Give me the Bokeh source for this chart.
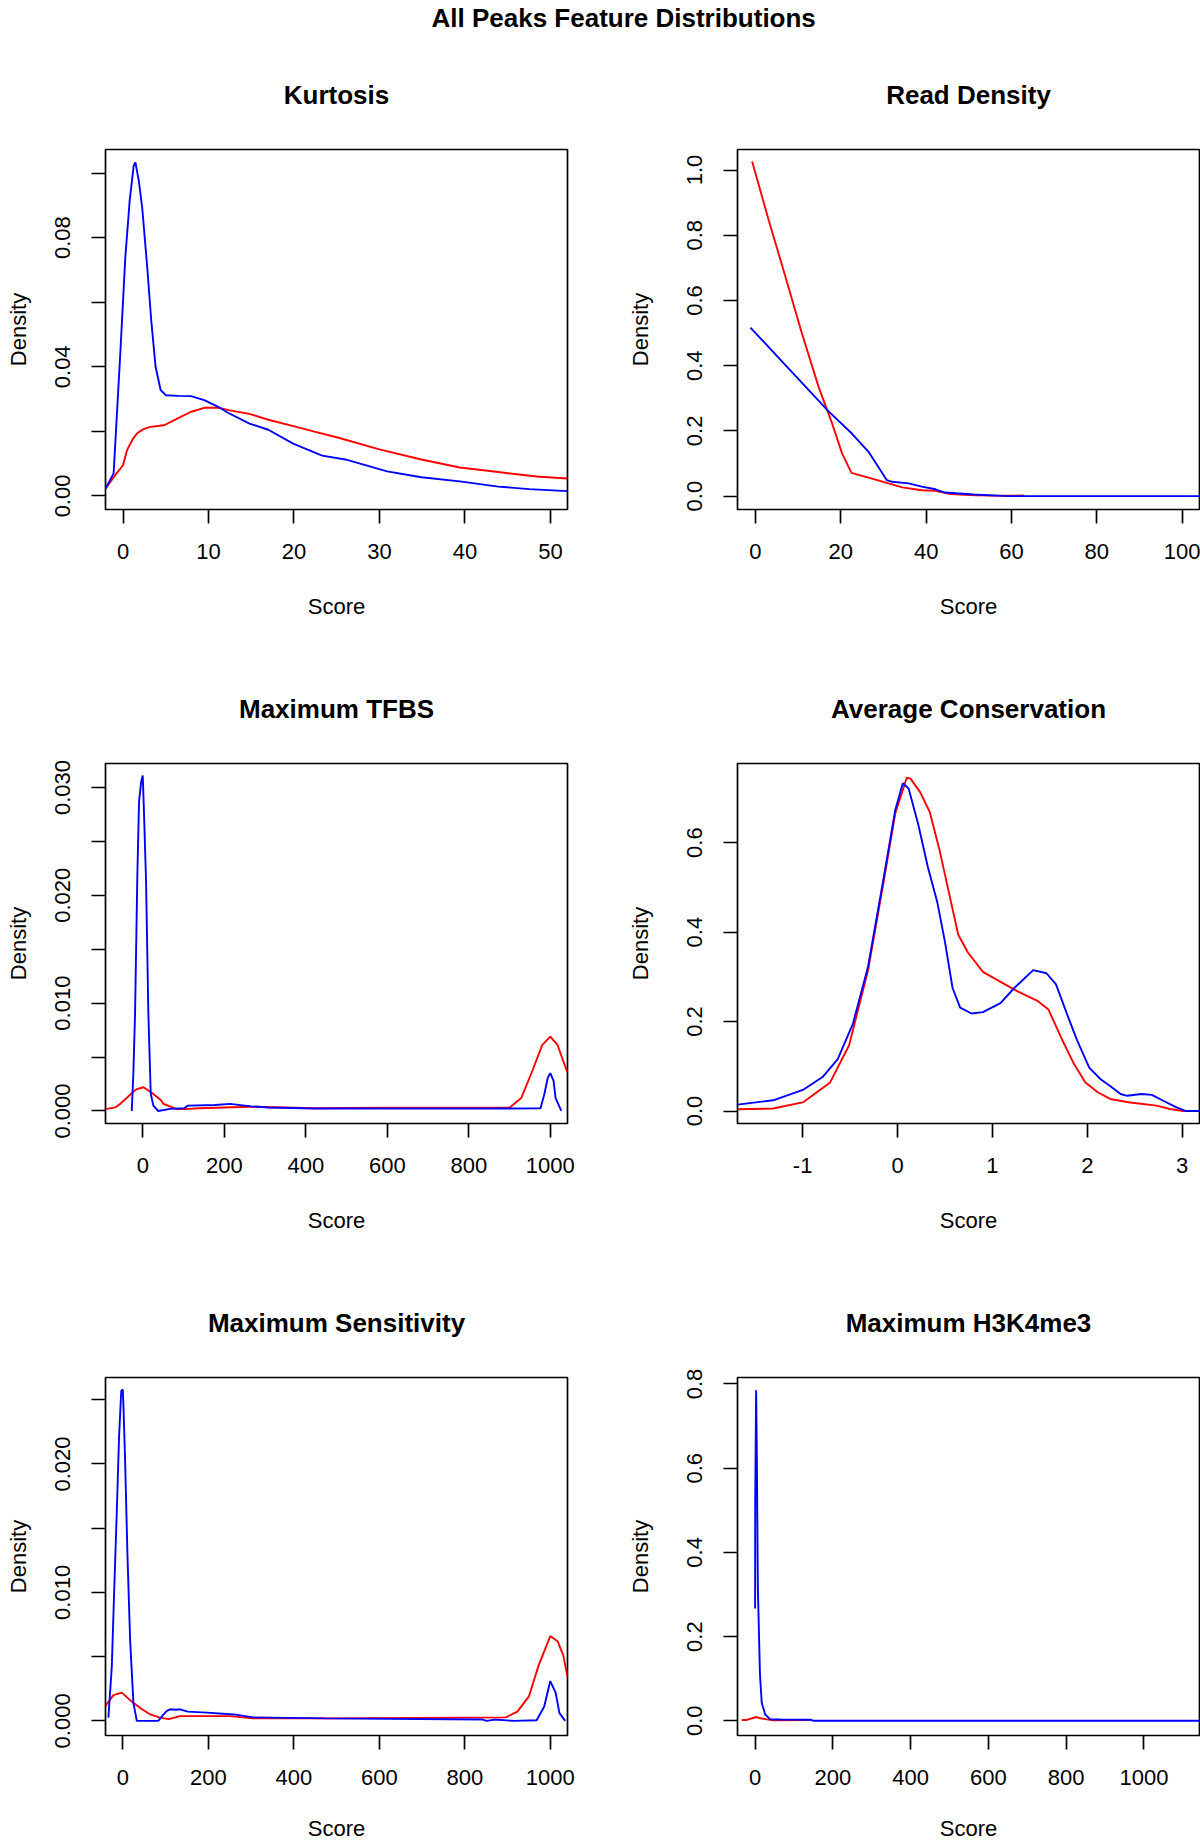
from bokeh.plotting import figure
from bokeh.layouts import column, row
from bokeh.models import Range1d, FixedTicker, PrintfTickFormatter, Title
from bokeh.embed import file_html
from bokeh.resources import INLINE

FONT = "Liberation Sans"
MAIN_TITLE = "All Peaks Feature Distributions"
X_LABEL = "Score"
Y_LABEL = "Density"

# ---------------- data ----------------
kurt_x_red = [-2.08, -0.9, 0.0, 0.47, 1.12, 1.65, 2.4, 3.2, 4.8, 6.4, 7.9, 9.5, 11.1, 12.5, 14.8,
              17.0, 19.7, 22.4, 25.1, 30.0, 34.9, 39.4, 43.9, 48.4, 52.0]
kurt_y_red = [0.0021, 0.0065, 0.0095, 0.0142, 0.0175, 0.0194, 0.0207, 0.0214, 0.0219, 0.024, 0.026,
              0.0273, 0.0273, 0.0265, 0.0254, 0.0236, 0.0218, 0.0199, 0.0181, 0.0144, 0.0113, 0.0088,
              0.0074, 0.006, 0.0054]
kurt_x_blue = [-2.08, -1.1, -0.32, 0.27, 0.78, 1.25, 1.45, 1.84, 2.24, 2.83, 3.3, 3.81, 4.4, 5.0, 6.5,
               7.94, 9.5, 11.5, 12.1, 14.8, 17.0, 19.9, 23.3, 26.0, 30.9, 34.9, 39.4, 43.9, 47.5, 52.0]
kurt_y_blue = [0.0021, 0.007, 0.0441, 0.074, 0.0915, 0.1023, 0.1033, 0.0977, 0.0894, 0.0709, 0.0544,
               0.040, 0.0328, 0.0312, 0.0310, 0.0309, 0.0297, 0.0271, 0.026, 0.0224, 0.0205, 0.0162,
               0.0125, 0.0113, 0.0076, 0.0058, 0.0045, 0.0029, 0.0021, 0.0015]

rd_x_red = [-0.77, 3.1, 7.03, 10.9, 14.8, 17.96, 20.3, 22.5, 26.5, 31.2, 34.4, 39.0, 42.2, 45.7, 51.6,
            58.7, 63.0]
rd_y_red = [1.026, 0.847, 0.673, 0.499, 0.335, 0.223, 0.131, 0.0715, 0.057, 0.039, 0.027, 0.018, 0.016,
            0.006, 0.0024, 0.001, 0.002]
rd_x_blue = [-1.17, 7.03, 17.2, 22.6, 26.5, 30.8, 32.0, 35.9, 39.0, 42.2, 44.4, 51.1, 59.2, 104.0]
rd_y_blue = [0.517, 0.402, 0.259, 0.192, 0.136, 0.049, 0.044, 0.039, 0.029, 0.021, 0.011, 0.005, 0.0, 0.0]

tf_x_red = [-91, -67.7, -55.7, -39.5, -23, -16, 1.5, 22, 45, 50.6, 73, 83.5, 101.5, 139, 261, 421, 590,
            900, 928.6, 956.8, 980, 1000, 1018, 1032, 1042]
tf_y_red = [0.00017, 0.00033, 0.00065, 0.0012, 0.0018, 0.002, 0.0022, 0.0017, 0.001, 0.00065, 0.00033,
            0.00018, 0.00017, 0.00026, 0.0004, 0.00026, 0.0003, 0.0003, 0.0012, 0.0038, 0.0061, 0.0069,
            0.0061, 0.0046, 0.0036]
tf_x_blue = [-27, -23.1, -18.9, -13.2, -9.1, -4.0, 0.0, 3.2, 8.1, 13.8, 19.6, 26, 38, 67, 101, 111, 177,
             214, 266, 308, 421, 590, 900, 976, 985, 994, 1000, 1008, 1013, 1027]
tf_y_blue = [0.0, 0.0034, 0.009, 0.022, 0.0287, 0.0305, 0.0311, 0.0275, 0.0213, 0.009, 0.0016, 0.0005,
             0.0, 0.0002, 0.00026, 0.0005, 0.00056, 0.00066, 0.00043, 0.00033, 0.00023, 0.00023, 0.00023,
             0.00026, 0.0015, 0.0031, 0.0035, 0.0028, 0.0012, 0.0]

cons_x_red = [-1.685, -1.31, -0.99, -0.71, -0.51, -0.31, -0.145, -0.024, 0.097, 0.137, 0.238, 0.339,
              0.44, 0.54, 0.64, 0.74, 0.9, 1.1, 1.27, 1.47, 1.59, 1.74, 1.86, 1.98, 2.11, 2.24, 2.45,
              2.73, 2.87, 3.01, 3.05]
cons_y_red = [0.004, 0.0056, 0.02, 0.064, 0.147, 0.315, 0.514, 0.665, 0.745, 0.743, 0.713, 0.669, 0.586,
              0.49, 0.394, 0.355, 0.311, 0.287, 0.267, 0.247, 0.227, 0.157, 0.105, 0.064, 0.042, 0.027,
              0.019, 0.012, 0.0045, 0.0, 0.0]
cons_x_blue = [-1.685, -1.31, -0.99, -0.79, -0.63, -0.47, -0.31, -0.145, -0.024, 0.056, 0.117, 0.218,
               0.319, 0.42, 0.5, 0.58, 0.66, 0.78, 0.9, 1.085, 1.23, 1.43, 1.57, 1.67, 1.81, 1.895, 2.02,
               2.14, 2.24, 2.35, 2.42, 2.57, 2.68, 2.8, 2.94, 3.04, 3.18]
cons_y_blue = [0.0143, 0.024, 0.048, 0.076, 0.116, 0.195, 0.323, 0.522, 0.673, 0.733, 0.721, 0.641,
               0.546, 0.466, 0.378, 0.275, 0.231, 0.218, 0.221, 0.241, 0.275, 0.315, 0.308, 0.283, 0.203,
               0.157, 0.097, 0.071, 0.056, 0.038, 0.034, 0.038, 0.036, 0.023, 0.008, 0.0, 0.0]

ms_x_red = [-41, -22, -2.3, 21, 40.5, 64, 87, 107.5, 134, 251, 305, 475, 896, 923, 950, 972.6, 1000,
            1017, 1030.5, 1040.3]
ms_y_red = [0.00115, 0.002, 0.0022, 0.0015, 0.001, 0.0005, 0.00025, 0.00013, 0.00037, 0.00037, 0.00019,
            0.00019, 0.00027, 0.00072, 0.0019, 0.0043, 0.0066, 0.0062, 0.0051, 0.0034]
ms_x_blue = [-33.7, -25.8, -20.4, -14.1, -8.7, -3.6, 0.0, 1.4, 5.4, 10.8, 17.1, 24.8, 32.8, 83, 94, 103,
             110.8, 125, 134, 152, 197, 260, 305, 475, 842, 851, 869, 914, 968, 985.7, 1000, 1012.5,
             1021.5, 1035]
ms_y_blue = [0.00025, 0.0042, 0.0099, 0.0163, 0.0222, 0.0257, 0.0258, 0.0246, 0.0202, 0.013, 0.0063,
             0.0014, 0.0, 0.0, 0.00045, 0.00077, 0.0009, 0.00086, 0.0009, 0.00072, 0.00064, 0.0005,
             0.00027, 0.00019, 0.0001, 0.0, 0.0001, 0.0, 0.00005, 0.0011, 0.0031, 0.0022, 0.0006, 0.0]

h3_x_red = [-34, -21, -8.5, 4.4, 13, 30, 47, 141]
h3_y_red = [0.002, 0.002, 0.006, 0.009, 0.006, 0.0035, 0.001, 0.002]
h3_x_blue = [0.0, 0.3, 2.6, 4.5, 7.0, 12.5, 17.0, 26.0, 39.0, 65.0, 144.0, 150.0, 1143.0]
h3_y_blue = [0.2665, 0.5255, 0.785, 0.627, 0.318, 0.11, 0.043, 0.015, 0.0035, 0.003, 0.0024, 0.0, 0.0]

# tick positions / labels
kurt_xticks = [0, 10, 20, 30, 40, 50]
kurt_yticks = [0.0, 0.04, 0.08]
kurt_yminor = [0.02, 0.06, 0.10]
rd_xticks = [0, 20, 40, 60, 80, 100]
rd_yticks = [0.0, 0.2, 0.4, 0.6, 0.8, 1.0]
tf_xticks = [0, 200, 400, 600, 800, 1000]
tf_yticks = [0.0, 0.01, 0.02, 0.03]
tf_yminor = [0.005, 0.015, 0.025]
cons_xticks = [-1, 0, 1, 2, 3]
cons_yticks = [0.0, 0.2, 0.4, 0.6]
ms_xticks = [0, 200, 400, 600, 800, 1000]
ms_yticks = [0.0, 0.01, 0.02]
ms_yminor = [0.005, 0.015, 0.025]
h3_xticks = [0, 200, 400, 600, 800, 1000]
h3_yticks = [0.0, 0.2, 0.4, 0.6, 0.8]

panels = [
    dict(title="Kurtosis", red=(kurt_x_red, kurt_y_red), blue=(kurt_x_blue, kurt_y_blue),
         xr=(-2.05, 52.0), yr=(-0.0042, 0.1073), xt=kurt_xticks, yt=kurt_yticks, ym=kurt_yminor,
         yf="%.2f", side="L", r=0),
    dict(title="Read Density", red=(rd_x_red, rd_y_red), blue=(rd_x_blue, rd_y_blue),
         xr=(-4.2, 104.05), yr=(-0.041, 1.063), xt=rd_xticks, yt=rd_yticks, ym=[],
         yf="%.1f", side="R", r=0),
    dict(title="Maximum TFBS", red=(tf_x_red, tf_y_red), blue=(tf_x_blue, tf_y_blue),
         xr=(-91.4, 1042.2), yr=(-0.00116, 0.03222), xt=tf_xticks, yt=tf_yticks, ym=tf_yminor,
         yf="%.3f", side="L", r=1),
    dict(title="Average Conservation", red=(cons_x_red, cons_y_red), blue=(cons_x_blue, cons_y_blue),
         xr=(-1.686, 3.182), yr=(-0.0279, 0.7769), xt=cons_xticks, yt=cons_yticks, ym=[],
         yf="%.1f", side="R", r=1),
    dict(title="Maximum Sensitivity", red=(ms_x_red, ms_y_red), blue=(ms_x_blue, ms_y_blue),
         xr=(-40.5, 1040.3), yr=(-0.00114, 0.02673), xt=ms_xticks, yt=ms_yticks, ym=ms_yminor,
         yf="%.3f", side="L", r=2),
    dict(title="Maximum H3K4me3", red=(h3_x_red, h3_y_red), blue=(h3_x_blue, h3_y_blue),
         xr=(-45.3, 1143.0), yr=(-0.0349, 0.8154), xt=h3_xticks, yt=h3_yticks, ym=[],
         yf="%.1f", side="R", r=2),
]

TOP_H = 37
ROW_H = 614
LAST_H = 1843 - TOP_H - 2 * ROW_H
MB_TOP = 112
FRAME_H = 360


def make_panel(d):
    left = d["side"] == "L"
    last = d["r"] == 2
    h = LAST_H if last else ROW_H
    p = figure(width=600, height=h,
               x_range=Range1d(*d["xr"]), y_range=Range1d(*d["yr"]),
               output_backend="svg", toolbar_location=None,
               min_border_left=105 if left else 137, min_border_right=33 if left else 1,
               min_border_top=MB_TOP, min_border_bottom=h - MB_TOP - FRAME_H)
    p.title = Title(text=d["title"], align="center", text_font=FONT, text_font_size="26px",
                    text_font_style="bold", text_color="black", standoff=80)
    p.grid.visible = False
    p.outline_line_color = "black"
    p.outline_line_width = 1.7
    p.background_fill_color = "white"
    p.border_fill_color = "white"

    p.line(d["red"][0], d["red"][1], line_color="#FF0000", line_width=1.9)
    p.line(d["blue"][0], d["blue"][1], line_color="#0000FF", line_width=1.9)

    for ax in (p.xaxis[0], p.yaxis[0]):
        ax.axis_line_color = None
        ax.major_tick_in = 0
        ax.major_tick_out = 14
        ax.major_tick_line_width = 1.7
        ax.major_tick_line_color = "black"
        ax.major_label_text_font = FONT
        ax.major_label_text_font_size = "22px"
        ax.major_label_text_color = "black"
        ax.axis_label_text_font = FONT
        ax.axis_label_text_font_size = "22px"
        ax.axis_label_text_font_style = "normal"
        ax.axis_label_text_color = "black"

    xa = p.xaxis[0]
    xa.ticker = FixedTicker(ticks=d["xt"])
    xa.formatter = PrintfTickFormatter(format="%d")
    xa.minor_tick_line_color = None
    xa.major_label_standoff = 20
    xa.axis_label = X_LABEL
    xa.axis_label_standoff = 28 if last else 32

    ya = p.yaxis[0]
    ya.ticker = FixedTicker(ticks=d["yt"], minor_ticks=d["ym"])
    ya.formatter = PrintfTickFormatter(format=d["yf"])
    ya.minor_tick_in = 0
    ya.minor_tick_out = 14
    ya.minor_tick_line_width = 1.7
    ya.minor_tick_line_color = "black"
    ya.major_label_orientation = "vertical"
    ya.major_label_standoff = 21
    ya.axis_label = Y_LABEL
    ya.axis_label_standoff = 22 if left else 32
    return p


# strip holding the overall title
tp = figure(width=1200, height=TOP_H, x_range=Range1d(0, 1), y_range=Range1d(0, 1),
            output_backend="svg", toolbar_location=None, min_border=0,
            x_axis_location=None, y_axis_location=None)
tp.grid.visible = False
tp.outline_line_color = None
tp.title = Title(text=MAIN_TITLE, align="left", offset=431, text_font=FONT, text_font_size="26px",
                 text_font_style="bold", text_color="black", standoff=0)

figs = [make_panel(d) for d in panels]
layout = column(tp, row(figs[0], figs[1]), row(figs[2], figs[3]), row(figs[4], figs[5]))

open("out.html", "w").write(file_html(layout, INLINE))
